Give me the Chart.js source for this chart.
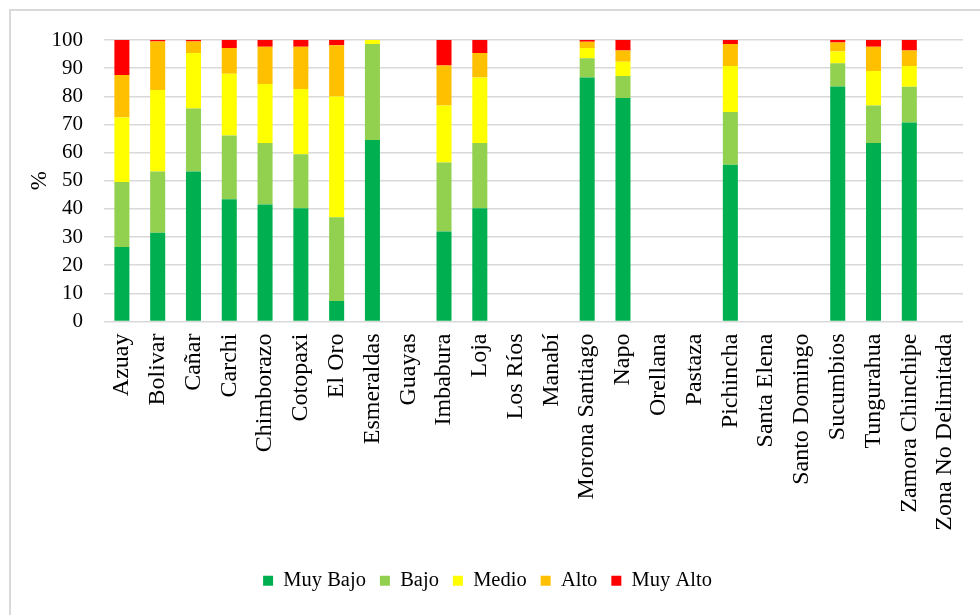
<!DOCTYPE html>
<html>
<head>
<meta charset="utf-8">
<script src="https://cdn.jsdelivr.net/npm/chart.js@4.4.0/dist/chart.umd.min.js"></script>
<style>
  html, body { margin: 0; padding: 0; background: #fff; overflow: hidden; }
  #wrap { position: relative; width: 980px; height: 615px; }
  #frame { position: absolute; left: 9px; top: 9px; width: 1000px; height: 700px; border-left: 2px solid #d9d9d9; border-top: 2px solid #d9d9d9; box-sizing: border-box; }
  canvas { position: absolute; left: 0; top: 0; }
</style>
</head>
<body>
<div id="wrap">
  <div id="frame"></div>
  <canvas id="c" width="980" height="615"></canvas>
</div>
<script>
const categories = ["Azuay","Bolivar","Cañar","Carchi","Chimborazo","Cotopaxi","El Oro","Esmeraldas","Guayas","Imbabura","Loja","Los Ríos","Manabí","Morona Santiago","Napo","Orellana","Pastaza","Pichincha","Santa Elena","Santo Domingo","Sucumbios","Tungurahua","Zamora Chinchipe","Zona No Delimitada"];
const muyBajo = [26.5,31.5,53.3,43.4,41.6,40.2,7.3,64.5,null,32.0,40.2,null,null,86.7,79.4,null,null,55.7,null,null,83.5,63.4,70.7,null];
const bajo    = [23.1,21.8,22.4,22.7,21.8,19.2,29.7,34.1,null,24.5,23.2,null,null,6.8,7.8,null,null,18.7,null,null,8.2,13.3,12.7,null];
const medio   = [22.9,28.9,19.7,21.9,21.0,23.2,42.9,1.4,null,20.2,23.3,null,null,3.7,5.1,null,null,16.4,null,null,4.2,12.3,7.4,null];
const alto    = [15.1,17.3,4.1,9.2,13.2,15.0,18.2,0,null,14.2,8.7,null,null,2.2,4.0,null,null,7.8,null,null,3.2,8.6,5.5,null];
const muyAlto = [12.4,0.5,0.5,2.8,2.4,2.4,1.9,0,null,9.1,4.6,null,null,0.6,3.7,null,null,1.4,null,null,0.9,2.4,3.7,null];
const yTicks = [0,10,20,30,40,50,60,70,80,90,100];
const seriesNames = ["Muy Bajo","Bajo","Medio","Alto","Muy Alto"];
const seriesColors = ["#00b050","#92d050","#ffff00","#ffc000","#ff0000"];
const seriesData = [muyBajo, bajo, medio, alto, muyAlto];

const fam = "'Liberation Serif', 'Times New Roman', serif";

new Chart(document.getElementById('c'), {
  type: 'bar',
  data: {
    labels: categories,
    datasets: seriesNames.map((n, i) => ({
      label: n,
      data: seriesData[i],
      backgroundColor: seriesColors[i],
      borderWidth: 0,
      barPercentage: 0.42,
      categoryPercentage: 1.0
    }))
  },
  options: {
    responsive: false,
    animation: false,
    layout: { padding: { left: 12, top: 40, right: 17, bottom: 14 } },
    plugins: {
      legend: {
        position: 'bottom',
        labels: { font: { family: fam, size: 20.5 }, color: '#000', boxWidth: 10, boxHeight: 10, padding: 14 }
      },
      tooltip: { enabled: false }
    },
    scales: {
      x: {
        stacked: true,
        grid: { display: false },
        border: { display: false },
        ticks: { font: { family: fam, size: 24 }, color: '#000', maxRotation: 90, minRotation: 90, autoSkip: false, padding: 4 },
        afterFit: (s) => { s.height = 235; }
      },
      y: {
        stacked: true,
        min: 0, max: 100,
        afterBuildTicks: (s) => { s.ticks = yTicks.map(v => ({ value: v })); },
        grid: { color: '#d9d9d9', lineWidth: 1.5, drawTicks: false },
        border: { display: false },
        ticks: { font: { family: fam, size: 21 }, color: '#000', padding: 21, autoSkip: false },
        title: { display: true, text: '%', font: { family: fam, size: 23 }, color: '#000', padding: { top: 14, bottom: 0 } },
        afterFit: (s) => { s.width = 92; }
      }
    }
  }
});
</script>
</body>
</html>
